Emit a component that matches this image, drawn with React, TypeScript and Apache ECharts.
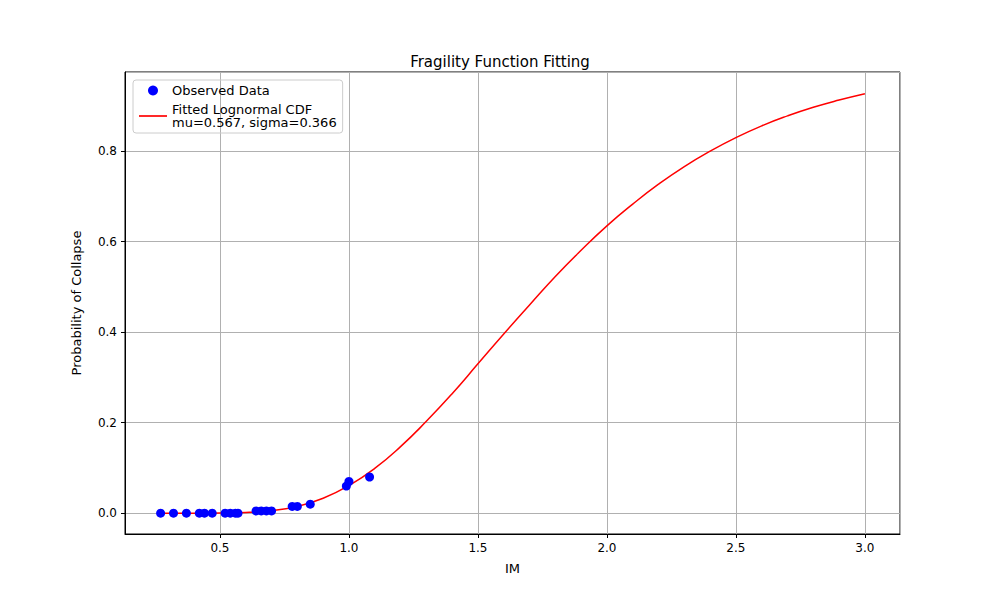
import * as React from "react";
import * as echarts from "echarts";
import { useEffect, useRef } from "react";

// observed points (IM, probability of collapse)
const obsIM = [0.27, 0.32, 0.37, 0.42, 0.44, 0.47, 0.52, 0.54, 0.56, 0.57, 0.64, 0.66, 0.68, 0.7, 0.78, 0.8, 0.85, 0.99, 1.0, 1.08];
const obsP = [0, 0, 0, 0, 0, 0, 0, 0, 0, 0, 0.005, 0.005, 0.005, 0.005, 0.015, 0.015, 0.02, 0.06, 0.07, 0.08];

// fitted curve
const fitIM = [0.26, 0.3, 0.4, 0.5, 0.6, 0.7, 0.8, 0.9, 1.0, 1.1, 1.2, 1.3, 1.4, 1.5, 1.6, 1.7, 1.8, 1.9, 2.0, 2.1, 2.2, 2.3, 2.4, 2.5, 2.6, 2.7, 2.8, 2.9, 3.0];
const fitP = [0, 0, 0, 0.0003, 0.0016, 0.006, 0.015, 0.033, 0.061, 0.099, 0.147, 0.203, 0.264, 0.33, 0.396, 0.46, 0.523, 0.581, 0.635, 0.683, 0.727, 0.766, 0.8, 0.83, 0.856, 0.878, 0.897, 0.913, 0.927];

const fitName = "Fitted Lognormal CDF\nmu=0.567, sigma=0.366";
const font = "DejaVu Sans";

const App = () => {
  const chartRef = useRef<HTMLDivElement>(null);

  useEffect(() => {
    if (!chartRef.current) return;
    const chart = echarts.init(chartRef.current, null, { renderer: "svg" });
    const axisCommon = {
      axisLine: { show: true, onZero: false, lineStyle: { color: "#000" } },
      axisTick: { show: true, length: 4, lineStyle: { color: "#000" } },
      axisLabel: { color: "#000", fontFamily: font, fontSize: 12, showMinLabel: false, showMaxLabel: false, formatter: (v: number) => v.toFixed(1) },
      splitLine: { show: true, lineStyle: { color: "#b0b0b0", width: 1 } },
      nameTextStyle: { color: "#000", fontFamily: font, fontSize: 13 },
    };
    chart.setOption({
      animation: false,
      title: { text: "Fragility Function Fitting", left: "center", top: 49, textStyle: { fontFamily: font, fontSize: 15, fontWeight: "normal", color: "#000" } },
      grid: { left: 125, right: 100, top: 72, bottom: 66, show: true, borderColor: "#000", borderWidth: 1 },
      legend: {
        left: 133, top: 80, orient: "vertical", itemGap: 6,
        borderColor: "#ccc", borderWidth: 1, borderRadius: 3, padding: [4, 6, 4, 6],
        textStyle: { fontFamily: font, fontSize: 13, color: "#000" },
        data: [
          { name: "Observed Data", icon: "circle" },
          { name: fitName, icon: "path://M0,0h10v0.6H0z" },
        ],
        itemWidth: 28, itemHeight: 10,
      },
      xAxis: { type: "value", min: 0.132, max: 3.136, splitNumber: 6, name: "IM", nameLocation: "middle", nameGap: 28, ...axisCommon },
      yAxis: { type: "value", min: -0.046, max: 0.975, splitNumber: 5, name: "Probability of Collapse", nameLocation: "middle", nameGap: 42, ...axisCommon },
      series: [
        {
          name: "Observed Data", type: "scatter", symbolSize: 9, itemStyle: { color: "#0000ff", opacity: 1 },
          data: obsIM.map((x, i) => [x, obsP[i]]), z: 3,
        },
        {
          name: fitName, type: "line", smooth: true, showSymbol: false, lineStyle: { color: "#ff0000", width: 1.5 }, itemStyle: { color: "#ff0000" },
          data: fitIM.map((x, i) => [x, fitP[i]]), z: 2,
        },
      ],
    });
    return () => chart.dispose();
  }, []);

  return <div ref={chartRef} style={{ width: 1000, height: 600, margin: -8 }} />;
};

export default App;
